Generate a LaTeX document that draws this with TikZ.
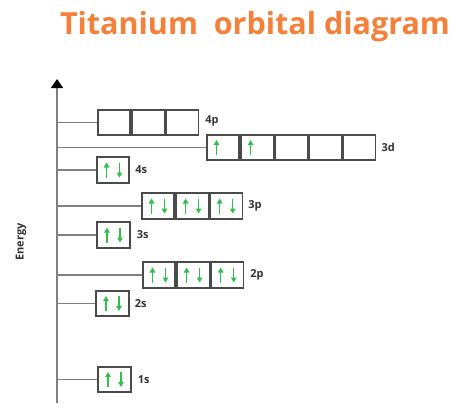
\documentclass[tikz,border=0pt]{standalone}
\usepackage{fontspec}
\setmainfont{Open Sans}
\usetikzlibrary{arrows.meta, positioning}

\definecolor{titleorange}{RGB}{244,128,58}
\definecolor{spingreen}{RGB}{46,192,72}
\definecolor{boxgray}{RGB}{75,75,75}
\definecolor{linegray}{RGB}{128,128,128}

\tikzset{
  orb/.style={draw=boxgray, line width=1.6pt, minimum width=32.5pt, minimum height=25.5pt, inner sep=0pt},
  lvl/.style={draw=linegray, line width=1.4pt},
  sub/.style={font=\bfseries\fontsize{11}{11}\selectfont, text=black!80, inner sep=0pt},
  spin/.style={draw=spingreen, line width=1.5pt, -{Triangle[width=5.5pt,length=5pt]}},
}

\newcommand{\spinup}[1]{\draw[spin] ([xshift=-6.5pt,yshift=-7.5pt]#1.center) -- ++(0pt,15pt);}
\newcommand{\spindown}[1]{\draw[spin] ([xshift=6.5pt,yshift=7.5pt]#1.center) -- ++(0pt,-15pt);}
\newcommand{\spinpair}[1]{\spinup{#1}\spindown{#1}}

\begin{document}
\begin{tikzpicture}[x=1pt, y=-1pt]
  \useasboundingbox (0,0) rectangle (474,410);
  \node (title) [font=\bfseries\fontsize{30.5}{30.5}\selectfont, text=titleorange] at (255,27) {Titanium\ \ orbital diagram};
  \node (energy) [rotate=90, font=\bfseries\fontsize{11}{11}\selectfont, text=black!80] at (21,242) {Energy};
  \coordinate (axbot) at (57,403);
  \coordinate (axtop) at (57,79);
  \draw [lvl, line width=1.8pt, -{Triangle[width=12pt,length=9pt,color=black]}] (axbot) -- (axtop);

  % 1s
  \node (s1) [orb] at (114.5,379.5) {};
  \spinpair{s1}
  \node (s1l) [sub, right=6pt of s1] {1s};
  % 2s
  \node (s2) [orb] at (112.5,303.5) {};
  \spinpair{s2}
  \node (s2l) [sub, right=5pt of s2] {2s};
  % 2p
  \node (p2a) [orb] at (159,275) {};
  \node (p2b) [orb, right=0pt of p2a] {};
  \node (p2c) [orb, right=0pt of p2b] {};
  \spinpair{p2a} \spinpair{p2b} \spinpair{p2c}
  \node (p2l) [sub, right=6pt of p2c] {2p};
  % 3s
  \node (s3) [orb] at (113.5,235) {};
  \spinpair{s3}
  \node (s3l) [sub, right=6pt of s3] {3s};
  % 3p
  \node (p3a) [orb] at (158,206) {};
  \node (p3b) [orb, right=0pt of p3a] {};
  \node (p3c) [orb, right=0pt of p3b] {};
  \spinpair{p3a} \spinpair{p3b} \spinpair{p3c}
  \node (p3l) [sub, right=5pt of p3c] {3p};
  % 4s
  \node (s4) [orb] at (113,170) {};
  \spinpair{s4}
  \node (s4l) [sub, right=5pt of s4] {4s};
  % 3d
  \node (d3a) [orb] at (223,147.5) {};
  \node (d3b) [orb, right=0pt of d3a] {};
  \node (d3c) [orb, right=0pt of d3b] {};
  \node (d3d) [orb, right=0pt of d3c] {};
  \node (d3e) [orb, right=0pt of d3d] {};
  \spinup{d3a} \spinup{d3b}
  \node (d3l) [sub, right=5pt of d3e] {3d};
  % 4p
  \node (p4a) [orb] at (114,122.5) {};
  \node (p4b) [orb, right=0pt of p4a] {};
  \node (p4c) [orb, right=0pt of p4b] {};
  \node (p4l) [sub, right=6pt of p4c, yshift=2pt] {4p};

  % levels
  \path [lvl]
  (axbot |- s1.west) edge (s1.west)
  (axbot |- s2.west) edge (s2.west)
  (axbot |- p2a.west) edge (p2a.west)
  (axbot |- s3.west) edge (s3.west)
  (axbot |- p3a.west) edge (p3a.west)
  (axbot |- s4.west) edge (s4.west)
  (axbot |- d3a.west) edge (d3a.west)
  (axbot |- p4a.west) edge (p4a.west)
  ;
\end{tikzpicture}
\end{document}
